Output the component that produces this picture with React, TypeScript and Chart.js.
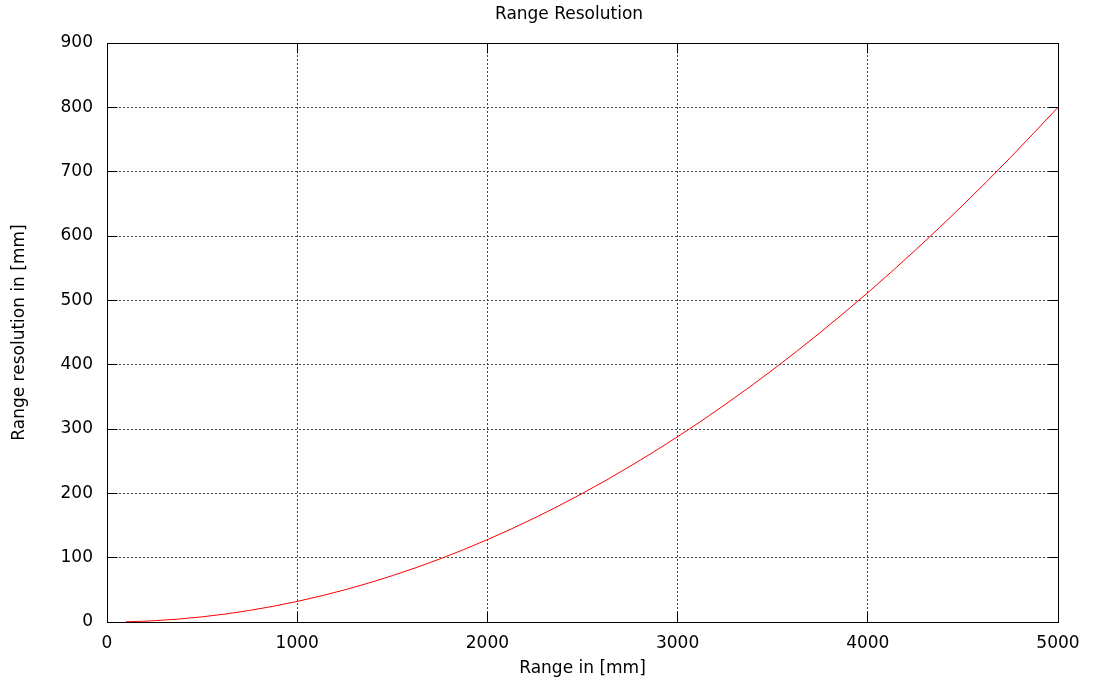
import React, { useEffect, useRef } from "react";
import { Chart, registerables } from "chart.js";

Chart.register(...registerables);

const rangeMm = [100, 250, 500, 750, 1000, 1250, 1500, 1750, 2000, 2250, 2500, 2750, 3000, 3250, 3500, 3750, 4000, 4250, 4500, 4750, 5000];
const resolutionMm = [0.3, 2, 8, 18, 32, 50, 72, 98, 128, 162, 200, 242, 288, 338, 392, 450, 512, 578, 648, 722, 800];

const chartTitle = "Range Resolution";
const xTitle = "Range in [mm]";
const yTitle = "Range resolution in [mm]";

const FONT = "'DejaVu Sans', sans-serif";

const align = (p: number) => Math.round(p - 0.5) + 0.5;

const frameTicks = {
  id: "frameTicks",
  afterDatasetsDraw(chart: any) {
    const { ctx, chartArea } = chart;
    const left = align(chartArea.left);
    const right = align(chartArea.right);
    const top = align(chartArea.top);
    const bottom = align(chartArea.bottom);
    const xs = chart.scales.x;
    const ys = chart.scales.y;
    const len = 10;
    ctx.save();
    ctx.strokeStyle = "#000";
    ctx.lineWidth = 1;
    ctx.setLineDash([]);
    ctx.beginPath();
    xs.ticks.forEach((t: any) => {
      const px = align(xs.getPixelForValue(t.value));
      ctx.moveTo(px, bottom);
      ctx.lineTo(px, bottom - len);
      ctx.moveTo(px, top);
      ctx.lineTo(px, top + len);
    });
    ys.ticks.forEach((t: any) => {
      const py = align(ys.getPixelForValue(t.value));
      ctx.moveTo(left, py);
      ctx.lineTo(left + len, py);
      ctx.moveTo(right, py);
      ctx.lineTo(right - len, py);
    });
    ctx.stroke();
    ctx.strokeRect(left, top, right - left, bottom - top);
    ctx.fillStyle = "#000";
    ctx.font = `17px ${FONT}`;
    ctx.textAlign = "center";
    ctx.textBaseline = "middle";
    ctx.fillText(chartTitle, 569, 15);
    ctx.restore();
  },
};

export default function App() {
  const ref = useRef<HTMLCanvasElement>(null);
  useEffect(() => {
    if (!ref.current) return;
    const chart = new Chart(ref.current, {
      type: "line",
      data: {
        datasets: [
          {
            data: rangeMm.map((x, i) => ({ x, y: resolutionMm[i] })),
            borderColor: "#ff0000",
            borderWidth: 1,
            pointRadius: 0,
            cubicInterpolationMode: "monotone",
            fill: false,
          },
        ],
      },
      options: {
        animation: false,
        responsive: false,
        devicePixelRatio: 1,
        layout: { padding: { left: 0, right: 36, top: 43, bottom: 0 } },
        plugins: {
          legend: { display: false },
          tooltip: { enabled: false },
          title: { display: false },
        },
        scales: {
          x: {
            type: "linear",
            min: 0,
            max: 5000,
            ticks: {
              stepSize: 1000,
              color: "#000",
              font: { family: FONT, size: 17 },
              padding: 11,
              maxRotation: 0,
              callback: (v: any) => String(v),
            },
            grid: { color: "#444", lineWidth: 1, drawTicks: false },
            border: { display: false, dash: [2, 2] },
            title: {
              display: true,
              text: xTitle,
              color: "#000",
              font: { family: FONT, size: 17 },
              padding: { top: 0, bottom: 10 },
            },
            afterFit(scale: any) {
              scale.height = 67;
            },
          },
          y: {
            type: "linear",
            min: 0,
            max: 900,
            ticks: {
              stepSize: 100,
              color: "#000",
              font: { family: FONT, size: 17 },
              padding: 14,
              callback: (v: any) => String(v),
            },
            grid: { color: "#444", lineWidth: 1, drawTicks: false },
            border: { display: false, dash: [2, 2] },
            title: {
              display: true,
              text: yTitle,
              color: "#000",
              font: { family: FONT, size: 17 },
              padding: { top: 9, bottom: 0 },
            },
            afterFit(scale: any) {
              scale.width = 107;
            },
          },
        },
      },
      plugins: [frameTicks],
    } as any);
    return () => chart.destroy();
  }, []);
  return (
    <div style={{ position: "absolute", left: 0, top: 0, width: 1094, height: 689, background: "#fff" }}>
      <canvas ref={ref} width={1094} height={689} style={{ display: "block" }} />
    </div>
  );
}
